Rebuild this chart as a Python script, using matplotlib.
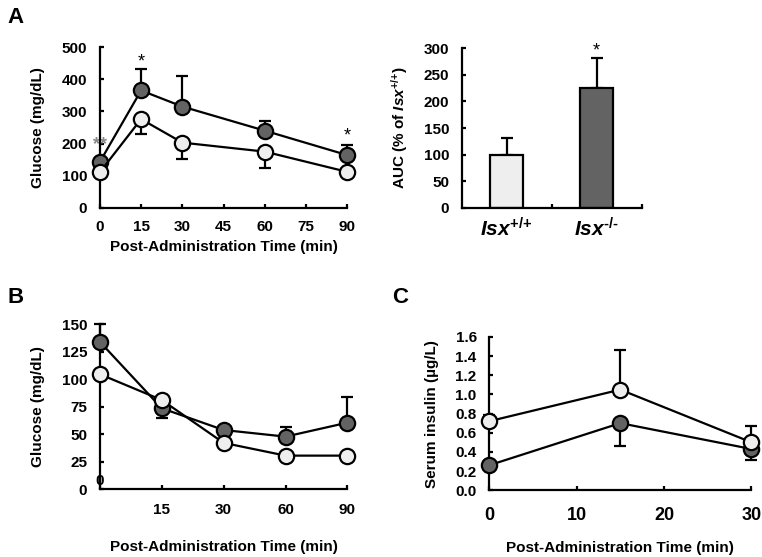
import numpy as np
import matplotlib
matplotlib.use("Agg")
import matplotlib.pyplot as plt

plt.rcParams['font.family'] = ['Liberation Sans', 'DejaVu Sans']
plt.rcParams['font.weight'] = 'bold'
plt.rcParams['axes.labelweight'] = 'bold'
plt.rcParams['mathtext.fontset'] = 'custom'
plt.rcParams['mathtext.rm'] = 'Liberation Sans:bold'
plt.rcParams['mathtext.bf'] = 'Liberation Sans:bold'
plt.rcParams['mathtext.it'] = 'Liberation Sans:italic:bold'

# Panel A (left): glucose time course
time_a = [0, 15, 30, 60, 90]
wt_a = [111, 276, 203, 175, 112]
wt_a_err = [0, 45, 52, 50, 0]
ko_a = [143, 365, 315, 240, 164]
ko_a_err = [0, 67, 96, 31, 31]

# Panel A (right): AUC
groups = [r'$Isx^{\text{+/+}}$', r'$Isx^{\text{-/-}}$']
auc = [100, 225]
auc_err = [31, 56]

# Panel B
time_b_labels = ['', '15', '30', '60', '90']
wt_b = [104.5, 81, 42, 30.4, 30.4]
ko_b = [134, 73.5, 53.7, 47.7, 60.4]
ko_b_err_up = [16, 0, 0, 8.3, 23.6]
ko_b_err_dn = [0, 8.5, 0, 0, 0]

# Panel C
time_c = [0, 15, 30]
wt_c = [0.72, 1.05, 0.50]
wt_c_err = [0.07, 0.41, 0.17]
ko_c = [0.26, 0.70, 0.43]
ko_c_err = [0.0, 0.24, 0.12]

light = '#eeeeee'
dark = '#636363'
lw = 1.6
ms = 11
fs = 11

fig = plt.figure(figsize=(7.62, 5.57), dpi=100)


def style(ax, xsize=fs, xpad=8):
    for s in ['top', 'right']:
        ax.spines[s].set_visible(False)
    for s in ['left', 'bottom']:
        ax.spines[s].set_linewidth(lw)
    ax.tick_params(direction='in', length=3, width=lw, labelsize=fs)
    ax.tick_params(axis='y', pad=9)
    ax.tick_params(axis='x', labelsize=xsize, pad=xpad)
    for lab in ax.get_xticklabels() + ax.get_yticklabels():
        lab.set_fontweight('bold')


def series(ax, x, y, lo, hi, fill, z):
    ax.errorbar(x, y, yerr=[lo, hi], fmt='none', ecolor='black', elinewidth=lw,
                capsize=4, capthick=lw, zorder=z, clip_on=False)
    ax.plot(x, y, '-o', color='black', lw=lw, ms=ms, mfc=fill, mec='black',
            mew=lw, zorder=z + 1, clip_on=False)


# ---- A left
ax1 = fig.add_axes([0.131, 0.6266, 0.325, 0.289])
zeros = [0] * 5
series(ax1, time_a, ko_a, zeros, ko_a_err, dark, 3)
series(ax1, time_a, wt_a, wt_a_err, zeros, light, 5)
ax1.set_xlim(0, 90)
ax1.set_ylim(0, 500)
ax1.set_xticks([0, 15, 30, 45, 60, 75, 90])
ax1.set_yticks(range(0, 501, 100))
ax1.set_ylabel('Glucose (mg/dL)', fontsize=fs, labelpad=12)
ax1.set_xlabel('Post-Administration Time (min)', fontsize=fs, labelpad=4)
style(ax1, xpad=9)
ax1.text(0, 170, '**', ha='center', va='bottom', fontsize=13, color='#888888', zorder=2)
ax1.text(15, 428, '*', ha='center', va='bottom', fontsize=13, fontweight='normal')
ax1.text(90, 198, '*', ha='center', va='bottom', fontsize=13, fontweight='normal')

# ---- A right
ax2 = fig.add_axes([0.606, 0.6266, 0.236, 0.287])
xb = np.arange(len(groups))
ax2.bar(xb, auc, width=0.37, color=[light, dark], edgecolor='black', linewidth=lw, zorder=2)
ax2.errorbar(xb, auc, yerr=[[0, 0], auc_err], fmt='none', ecolor='black',
             elinewidth=lw, capsize=4, capthick=lw, zorder=1)
ax2.set_xlim(-0.5, 1.5)
ax2.set_ylim(0, 300)
ax2.set_yticks(range(0, 301, 50))
ax2.set_xticks([0.5, 1.5])
ax2.set_xticklabels(['', ''])
ax2.set_ylabel(r'AUC (% of $Isx^{\text{+/+}}$)', fontsize=fs, labelpad=10)
style(ax2)
for xi, g in zip(xb, groups):
    ax2.text(xi, -17, g, ha='center', va='top', fontsize=15)
ax2.text(1, 279, '*', ha='center', va='bottom', fontsize=13, fontweight='normal')

# ---- B
ax3 = fig.add_axes([0.131, 0.122, 0.325, 0.296])
xpos = np.arange(len(time_b_labels))
series(ax3, xpos, ko_b, ko_b_err_dn, ko_b_err_up, dark, 3)
series(ax3, xpos, wt_b, [0] * 5, [0] * 5, light, 5)
ax3.set_xlim(0, 4)
ax3.set_ylim(0, 150)
ax3.set_yticks(range(0, 151, 25))
ax3.set_xticks(xpos)
ax3.set_xticklabels(time_b_labels)
ax3.set_ylabel('Glucose (mg/dL)', fontsize=fs, labelpad=12)
ax3.set_xlabel('Post-Administration Time (min)', fontsize=fs)
ax3.xaxis.set_label_coords(0.5, -0.31)
style(ax3, xpad=10)
ax3.text(0, 1, '0', ha='center', va='bottom', fontsize=fs, fontweight='bold')

# ---- C
ax4 = fig.add_axes([0.642, 0.120, 0.344, 0.275])
series(ax4, time_c, ko_c, ko_c_err, [0] * 3, dark, 3)
series(ax4, time_c, wt_c, [0] * 3, wt_c_err, light, 5)
ax4.set_xlim(0, 30)
ax4.set_ylim(0, 1.6)
ax4.set_xticks([0, 10, 20, 30])
ax4.set_yticks(np.arange(0, 1.61, 0.2))
ax4.set_yticklabels([f'{v:.1f}' for v in np.arange(0, 1.61, 0.2)])
ax4.set_ylabel('Serum insulin (\u00b5g/L)', fontsize=fs, labelpad=12)
ax4.set_xlabel('Post-Administration Time (min)', fontsize=fs)
ax4.xaxis.set_label_coords(0.5, -0.33)
style(ax4, xsize=13, xpad=12)

fig.text(0.010, 0.968, 'A', fontsize=16, fontweight='bold', va='center')
fig.text(0.010, 0.466, 'B', fontsize=16, fontweight='bold', va='center')
fig.text(0.514, 0.466, 'C', fontsize=16, fontweight='bold', va='center')

fig.savefig('out.png', dpi=100)
